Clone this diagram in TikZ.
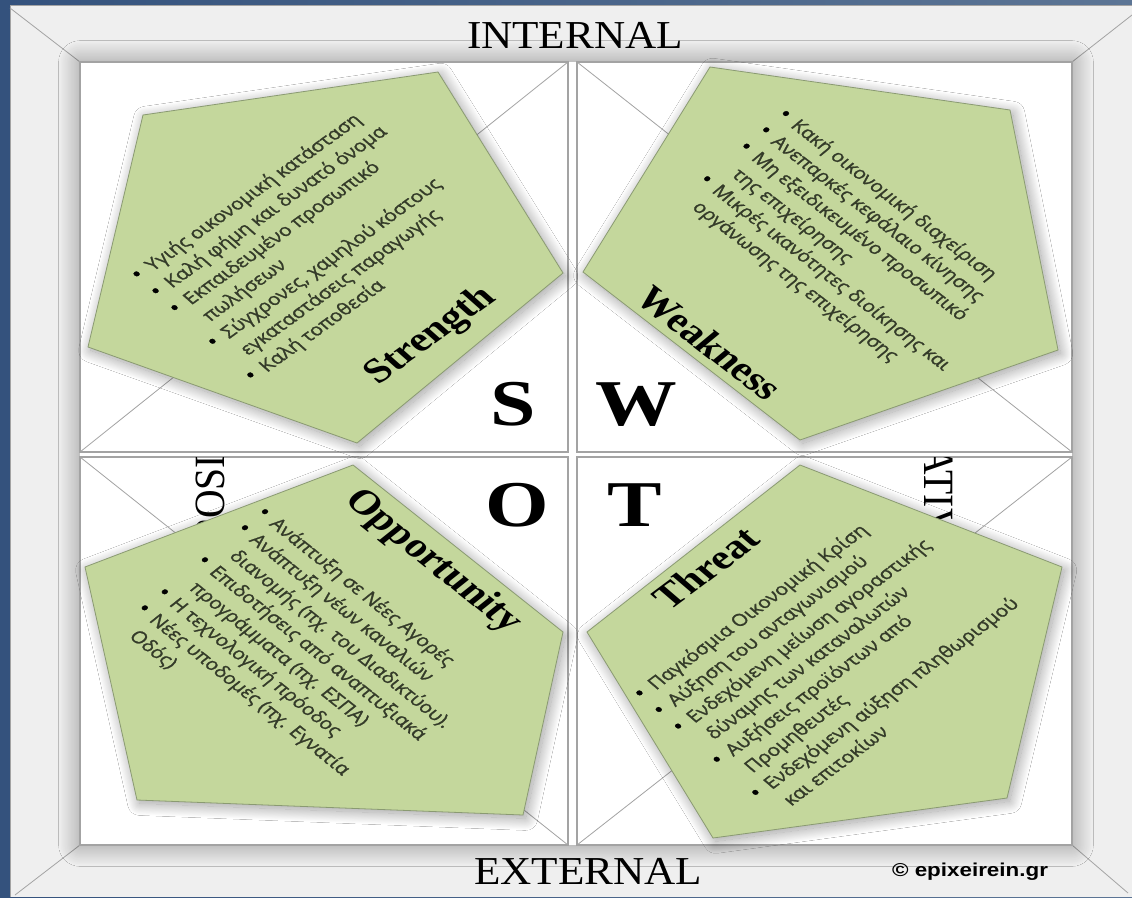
\documentclass[tikz,border=0pt]{standalone}
\usepackage{fontspec}
\setmainfont{Liberation Serif}
\newfontfamily\itemfont[FakeBold=1.2]{Open Sans}
\newfontfamily\markfont{Liberation Sans}
\usepackage{tikz}
\usetikzlibrary{shadows.blur}
\definecolor{swotgreen}{HTML}{C4D79C}
\definecolor{swotedge}{HTML}{8A9A72}
\definecolor{swottext}{HTML}{343B29}
\definecolor{framegray}{HTML}{EFEFEF}
\definecolor{linegray}{HTML}{A3A3A3}
\definecolor{slideblue}{HTML}{34527D}
\definecolor{slidebluelight}{HTML}{5C7595}

\newcommand{\bul}{\textcolor{black}{\fontsize{15}{17}\selectfont\textbullet}}

\begin{document}
\begin{tikzpicture}[
    x=0.75pt, y=-0.75pt,
    pentagon/.style={fill=swotgreen, draw=swotedge, line width=0.6pt,
        blur shadow={shadow xshift=2pt, shadow yshift=-2.5pt, shadow blur radius=9pt, shadow blur steps=40, shadow opacity=40}},
    quad/.style={fill=white, draw=linegray, line width=0.8pt},
    diag/.style={draw=linegray, line width=0.6pt},
    itemlist/.style={anchor=base west, inner sep=0pt, xscale=1.25, rotate=#1, text=swottext, font=\itemfont\fontsize{12.6}{17}\selectfont},
    quadtitle/.style={xscale=1.25, rotate=#1, font=\bfseries\fontsize{26}{30}\selectfont},
    bigletter/.style={xscale=1.25, font=\bfseries\fontsize{49}{55}\selectfont},
    axislabel/.style={xscale=1.2, yscale=1.1, font=\fontsize{27}{30}\selectfont},
]
\useasboundingbox (0,0) rectangle (1132,897);

\shade[left color=slideblue, right color=slidebluelight] (0,0) rectangle (1132,897);
\fill[framegray] (10,5) rectangle (1132,897);
\draw[linegray] (1132,5) -- (10,5) -- (10,897);

\draw[diag] (80,62) -- (10,8);
\draw[diag] (1072,62) -- (1132,15);
\draw[diag] (80,845) -- (15,895);
\draw[diag] (1072,845) -- (1128,893);

\fill[white, blur shadow={shadow xshift=0pt, shadow yshift=0pt, shadow blur radius=16pt, shadow blur steps=40, shadow opacity=40}] (80,62) rectangle (1072,845);

\draw[quad] (80,62) rectangle (568,452);
\draw[quad] (577,62) rectangle (1072,452);
\draw[quad] (80,457) rectangle (568,845);
\draw[quad] (577,457) rectangle (1072,845);

\draw[diag] (568,62) -- (80,452);
\draw[diag] (577,62) -- (1072,452);
\draw[diag] (80,457) -- (568,845);
\draw[diag] (1072,457) -- (577,845);

\begin{scope}
  \clip (80,457) rectangle (1072,845);
  \node[axislabel, rotate=90] (positive) at (211,453) {POSITIVE};
  \node[axislabel, rotate=-90] (negative) at (938,463) {NEGATIVE};
\end{scope}

\draw[pentagon] (143,115) -- (438,72) -- (563,273) -- (357,443) -- (88,347) -- cycle;
\draw[pentagon] (710,67) -- (1010,110) -- (1058,350) -- (800,440) -- (583,272) -- cycle;
\draw[pentagon] (353,465) -- (563,632) -- (523,815) -- (137,800) -- (85,567) -- cycle;
\draw[pentagon] (800,465) -- (1062,567) -- (1007,798) -- (713,838) -- (587,632) -- cycle;

\node[quadtitle=42] (strength) at (431,336) {Strength};
\node[quadtitle=-44] (weakness) at (710,343) {Weakness};
\node[quadtitle=-45] (opportunity) at (433,562) {Opportunity};
\node[quadtitle=43] (threat) at (706,568) {Threat};

\node[itemlist=42] (strengthlist) at (139,282) {\begin{tabular}[t]{@{}l@{\hspace{0.45em}}l@{}}
\bul & Υγιής οικονομική κατάσταση\\
\bul & Καλή φήμη και δυνατό όνομα\\
\bul & Εκπαιδευμένο προσωπικό\\
     & πωλήσεων\\
\bul & Σύγχρονες, χαμηλού κόστους\\
     & εγκαταστάσεις παραγωγής\\
\bul & Καλή τοποθεσία
\end{tabular}};

\node[itemlist=-44] (weaknesslist) at (776,116) {\begin{tabular}[t]{@{}l@{\hspace{0.45em}}l@{}}
\bul & Κακή οικονομική διαχείριση\\
\bul & Ανεπαρκές κεφάλαιο κίνησης\\
\bul & Μη εξειδικευμένο προσωπικό\\
     & της επιχείρησης\\
\bul & Μικρές ικανότητες διοίκησης και\\
     & οργάνωσης της επιχείρησης
\end{tabular}};

\node[itemlist=-45] (opportunitylist) at (255,514) {\begin{tabular}[t]{@{}l@{\hspace{0.45em}}l@{}}
\bul & Ανάπτυξη σε Νέες Αγορές\\
\bul & Ανάπτυξη νέων καναλιών\\
     & διανομής (πχ. του Διαδικτύου).\\
\bul & Επιδοτήσεις από αναπτυξιακά\\
     & προγράμματα (πχ. ΕΣΠΑ)\\
\bul & Η τεχνολογική πρόοδος\\
\bul & Νέες υποδομές (πχ. Εγνατία\\
     & Οδός)
\end{tabular}};

\node[itemlist=43] (threatlist) at (642,701) {\begin{tabular}[t]{@{}l@{\hspace{0.45em}}l@{}}
\bul & Παγκόσμια Οικονομική Κρίση\\
\bul & Αύξηση του ανταγωνισμού\\
\bul & Ενδεχόμενη μείωση αγοραστικής\\
     & δύναμης των καταναλωτών\\
\bul & Αυξήσεις προϊόντων από\\
     & Προμηθευτές\\
\bul & Ενδεχόμενη αύξηση πληθωρισμού\\
     & και επιτοκίων
\end{tabular}};

\node[bigletter] (s) at (513,404) {S};
\node[bigletter] (w) at (636,405) {W};
\node[bigletter] (o) at (517,505) {O};
\node[bigletter] (t) at (635,505) {T};

\node[axislabel] (internal) at (575,35) {INTERNAL};
\node[axislabel] (external) at (588,871) {EXTERNAL};
\node[xscale=1.2, font=\markfont\bfseries\fontsize{14}{16}\selectfont] (credit) at (970,872) {© epixeirein.gr};

\end{tikzpicture}
\end{document}
